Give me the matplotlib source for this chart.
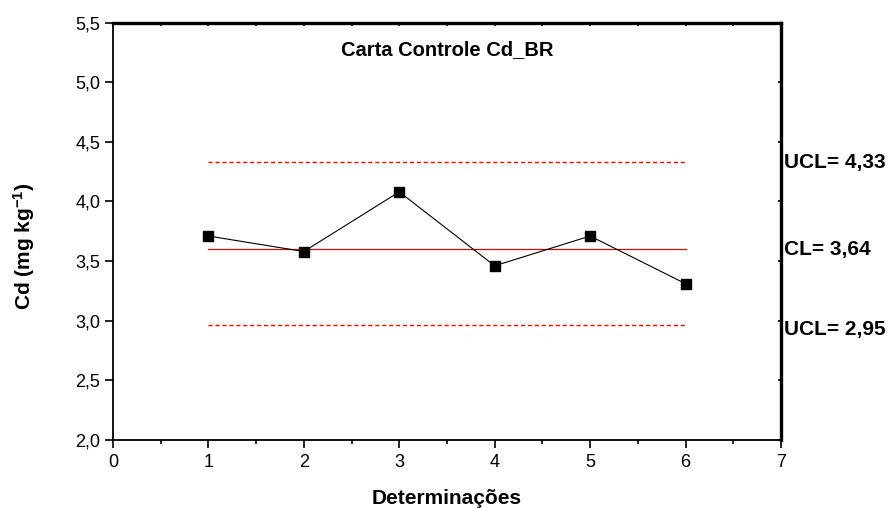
import matplotlib
matplotlib.use("Agg")
import matplotlib.pyplot as plt
from matplotlib.ticker import FuncFormatter, MultipleLocator

plt.rcParams['font.family'] = ['Liberation Sans', 'DejaVu Sans']
plt.rcParams['mathtext.fontset'] = 'custom'
plt.rcParams['mathtext.rm'] = 'Liberation Sans:bold'
plt.rcParams['mathtext.default'] = 'rm'

# data
determinacoes = [1, 2, 3, 4, 5, 6]
cd = [3.71, 3.58, 4.08, 3.46, 3.71, 3.31]
ucl = 4.33
cl_line = 3.60
lcl = 2.96
limit_labels = ["UCL= 4,33", "CL= 3,64", "UCL= 2,95"]
limit_label_y = [4.33, 3.60, 2.93]

fig = plt.figure(figsize=(8.91, 5.08), dpi=100)
ax = fig.add_axes([0.1268, 0.1339, 0.7497, 0.8218])

x0, x1 = determinacoes[0], determinacoes[-1]
ax.plot([x0, x1], [ucl, ucl], color='red', lw=1.0, ls=(0, (3, 2)))
ax.plot([x0, x1], [lcl, lcl], color='red', lw=1.0, ls=(0, (3, 2)))
ax.plot([x0, x1], [cl_line, cl_line], color='#cc1010', lw=0.9)
ax.plot(determinacoes, cd, color='black', lw=0.8, marker='s',
        markersize=7, markerfacecolor='black', markeredgecolor='black')

ax.set_xlim(0, 7)
ax.set_ylim(2.0, 5.5)
ax.xaxis.set_major_locator(MultipleLocator(1))
ax.xaxis.set_minor_locator(MultipleLocator(0.5))
ax.yaxis.set_major_locator(MultipleLocator(0.5))
ax.yaxis.set_major_formatter(FuncFormatter(lambda v, p: f"{v:.1f}".replace('.', ',')))

ax.tick_params(axis='x', which='major', direction='out', length=6, width=1.2,
               labelsize=13, pad=4)
ax.tick_params(axis='x', which='minor', direction='out', length=3, width=1.2)
ax.tick_params(axis='y', which='major', direction='out', length=6, width=1.2,
               labelsize=13, pad=3)
# small inner ticks on top and right frame
ax.tick_params(axis='x', which='both', top=True, labeltop=False)
ax.tick_params(axis='y', which='both', right=True, labelright=False)
for t in ax.xaxis.get_major_ticks() + ax.xaxis.get_minor_ticks():
    t.tick2line.set_marker(3)
    t.tick2line.set_markersize(2)
for t in ax.yaxis.get_major_ticks():
    t.tick2line.set_marker(0)
    t.tick2line.set_markersize(2)

for s in ['left', 'bottom']:
    ax.spines[s].set_linewidth(1.3)
for s in ['top', 'right']:
    ax.spines[s].set_linewidth(2.4)

ax.set_xlabel('Determinações', fontsize=15, fontweight='bold', labelpad=13)
ax.set_ylabel('Cd (mg kg$^{-1}$)', fontsize=15, fontweight='bold')
ax.yaxis.set_label_coords(-0.113, 0.463)
ax.text(0.5, 0.935, 'Carta Controle Cd_BR', transform=ax.transAxes,
        ha='center', va='center', fontsize=14.5, fontweight='bold')

for lab, yv in zip(limit_labels, limit_label_y):
    ax.annotate(lab, xy=(1.0, yv), xycoords=('axes fraction', 'data'),
                xytext=(2, 0), textcoords='offset points',
                ha='left', va='center', fontsize=15, fontweight='bold',
                annotation_clip=False)

fig.savefig('out.png', dpi=100)
